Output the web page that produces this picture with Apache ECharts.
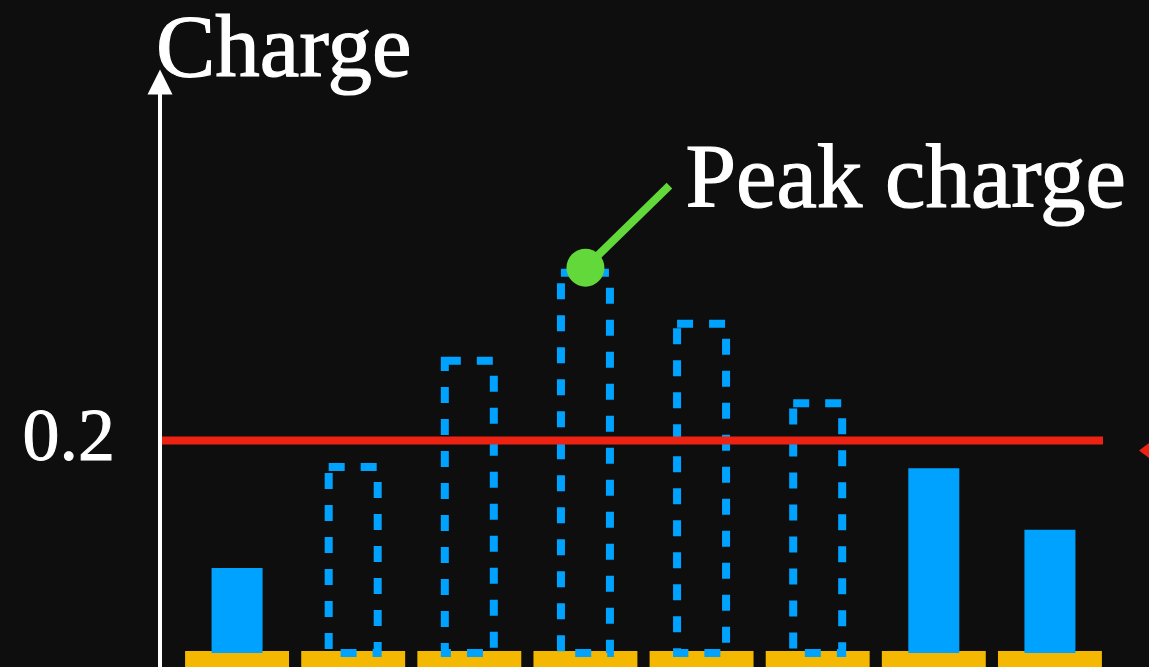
<!DOCTYPE html>
<html>
<head>
<meta charset="utf-8">
<script src="https://cdn.jsdelivr.net/npm/echarts@6/dist/echarts.min.js"></script>
<style>
  html, body { margin: 0; padding: 0; background: #0e0e0e; }
  #chart { width: 1149px; height: 667px; }
</style>
</head>
<body>
<div id="chart"></div>
<script>
// Charge per slot: solid bars are measured, dashed outlines are projected.
const categories = ['S1', 'S2', 'S3', 'S4', 'S5', 'S6', 'S7', 'S8'];
const measuredCharge = [0.080, null, null, null, null, null, 0.174, 0.116];
const projectedCharge = [null, 0.175, 0.275, 0.358, 0.310, 0.235, null, null];
const thresholdValue = 0.2;
const yTickLabels = [0.2];
const axisTitle = 'Charge';
const peakTitle = 'Peak charge';

const SERIF = '"Liberation Serif", "DejaVu Serif", serif';
const BLUE = '#00a2ff';
const YELLOW = '#f5b800';
const RED = '#ee2212';
const GREEN = '#62d83a';

const Y_MIN = -0.0132;
const Y_MAX = 0.5375;

const chart = echarts.init(document.getElementById('chart'));

chart.setOption({
  backgroundColor: '#0e0e0e',
  animation: false,
  grid: { left: 179, right: 41, top: 82, bottom: 0, containLabel: false },
  xAxis: {
    type: 'category',
    data: categories,
    show: false
  },
  yAxis: {
    type: 'value',
    min: Y_MIN,
    max: Y_MAX,
    offset: 19,
    axisLine: {
      show: true,
      lineStyle: { color: '#ffffff', width: 4 },
      symbol: ['none', 'triangle'],
      symbolSize: [25, 25]
    },
    axisTick: { show: false },
    splitLine: { show: false },
    axisLabel: {
      customValues: yTickLabels,
      color: '#ffffff',
      fontFamily: SERIF,
      fontSize: 74,
      margin: 45,
      textBorderColor: '#ffffff',
      textBorderWidth: 1,
      padding: [0, 0, 6, 0],
      formatter: v => String(v)
    }
  },
  series: [
    {
      // yellow base blocks under every slot
      type: 'custom',
      z: 1,
      renderItem: function (params, api) {
        const top = api.coord([api.value(0), 0]);
        const bottom = api.coord([api.value(0), Y_MIN]);
        const w = api.size([1, 0])[0] * 0.895;
        return {
          type: 'rect',
          shape: { x: top[0] - w / 2, y: top[1] - 2, width: w, height: bottom[1] - top[1] + 2 },
          style: { fill: YELLOW }
        };
      },
      data: categories.map((c, i) => [i])
    },
    {
      name: 'measured',
      type: 'bar',
      z: 3,
      barWidth: 51,
      barGap: '-100%',
      itemStyle: { color: BLUE },
      data: measuredCharge
    },
    {
      // projected values drawn as dashed outlines
      name: 'projected',
      type: 'custom',
      z: 3,
      renderItem: function (params, api) {
        const v = api.value(1);
        if (v == null || isNaN(v)) return null;
        const top = api.coord([api.value(0), v]);
        const base = api.coord([api.value(0), 0]);
        const w = 49;
        return {
          type: 'rect',
          shape: { x: top[0] - w / 2, y: top[1], width: w, height: base[1] - top[1] },
          style: { fill: 'none', stroke: BLUE, lineWidth: 8, lineDash: [16, 16] }
        };
      },
      data: projectedCharge.map((v, i) => [i, v])
    }
  ]
});

// threshold line, peak callout and titles placed from the axis scales
const yThreshold = chart.convertToPixel({ yAxisIndex: 0 }, thresholdValue);
let peakIdx = 0;
projectedCharge.forEach((v, i) => { if (v != null && v > (projectedCharge[peakIdx] || -Infinity)) peakIdx = i; });
const peakPt = chart.convertToPixel({ xAxisIndex: 0, yAxisIndex: 0 }, [peakIdx, projectedCharge[peakIdx]]);
const dot = [peakPt[0], peakPt[1] - 5];
const lineEnd = [dot[0] + 84, dot[1] - 82];

chart.setOption({
  graphic: [
    {
      type: 'line', z: 10,
      shape: { x1: 162, y1: yThreshold, x2: 1103, y2: yThreshold },
      style: { stroke: RED, lineWidth: 8 }
    },
    {
      type: 'polygon', z: 10,
      shape: { points: [[1139, yThreshold + 10], [1159, yThreshold - 5], [1159, yThreshold + 25]] },
      style: { fill: RED }
    },
    {
      type: 'line', z: 11,
      shape: { x1: dot[0], y1: dot[1], x2: lineEnd[0], y2: lineEnd[1] },
      style: { stroke: GREEN, lineWidth: 8 }
    },
    {
      type: 'circle', z: 12,
      shape: { cx: dot[0], cy: dot[1], r: 19 },
      style: { fill: GREEN }
    },
    {
      type: 'text', z: 12,
      x: lineEnd[0] + 16, y: lineEnd[1] - 3,
      style: {
        text: peakTitle, fill: '#ffffff', font: '91px ' + SERIF,
        stroke: '#ffffff', lineWidth: 1.2,
        textAlign: 'left', textVerticalAlign: 'middle'
      }
    },
    {
      type: 'text', z: 12,
      x: 156, y: 53,
      style: {
        text: axisTitle, fill: '#ffffff', font: '89px ' + SERIF,
        stroke: '#ffffff', lineWidth: 1.2,
        textAlign: 'left', textVerticalAlign: 'middle'
      }
    }
  ]
});
</script>
</body>
</html>
